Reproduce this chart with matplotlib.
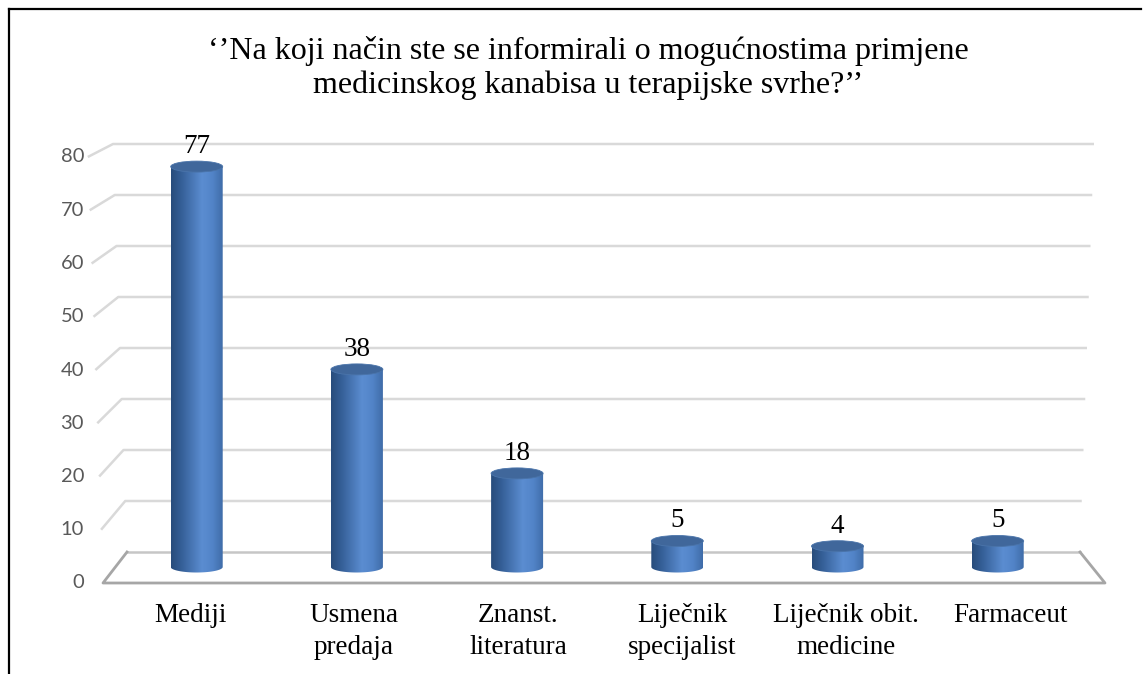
import matplotlib
matplotlib.use("Agg")
import matplotlib.pyplot as plt
import numpy as np
from matplotlib.patches import Ellipse, PathPatch
from matplotlib.path import Path
from matplotlib.colors import LinearSegmentedColormap
from matplotlib.lines import Line2D

# Data
title = "\u2018\u2019Na koji način ste se informirali o mogućnostima primjene\nmedicinskog kanabisa u terapijske svrhe?\u2019\u2019"
categories = ["Mediji", "Usmena\npredaja", "Znanst.\nliteratura",
              "Liječnik\nspecijalist", "Liječnik obit.\nmedicine", "Farmaceut"]
values = [77, 38, 18, 5, 4, 5]
y_ticks = [0, 10, 20, 30, 40, 50, 60, 70, 80]

# Layout (figure pixels) for the fake 3D box
W, H = 1147, 674
X0, DX = 196.7, 160.2     # bar centres, middle depth plane
Y0, DY = 567.0, 5.2       # value 0 and px per unit, middle depth plane


def to_data(px, py):
    return (px - X0) / DX, (Y0 - py) / DY


def back_pt(px_side, v):
    # back wall: slight perspective flare with height
    if px_side == "left":
        px = 127 - 0.175 * v
    else:
        px = 1080 + 0.175 * v
    return to_data(px, 552 - 5.1 * v)


def front_pt(v, px=None):
    if px is None:
        px = 103 - 0.19 * v
    return to_data(px, 583 - 5.325 * v)


fig = plt.figure(figsize=(W / 100, H / 100), dpi=100)
ax = fig.add_axes([0, 0, 1, 1])
ax.axis("off")

grid_col = "#d9d9d9"
floor_col = "#a6a6a6"

# gridlines on back wall + diagonal ticks on the side
for v in y_ticks[1:]:
    (xl, yb), (xr, _) = back_pt("left", v), back_pt("right", v)
    xf, yf = front_pt(v)
    ax.plot([xf, xl, xr], [yf, yb, yb], color=grid_col, lw=1.8,
            solid_capstyle="butt", zorder=1)

# floor
fl = front_pt(0)
fr = front_pt(0, px=1105)
bl = back_pt("left", 0)
br = back_pt("right", 0)
ax.plot([bl[0], br[0]], [bl[1], br[1]], color="#c6c6c6", lw=1.8, zorder=1)
ax.plot([br[0], fr[0], fl[0], bl[0]], [br[1], fr[1], fl[1], bl[1]],
        color=floor_col, lw=2.0, zorder=1)

# y tick labels along front edge
for v in y_ticks:
    x, y = to_data(84, 583 - 5.325 * v)
    ax.text(x, y, str(v), ha="right", va="center", fontsize=14.5,
            family="Lato", color="#595959")

# cylinders
cyl_cmap = LinearSegmentedColormap.from_list(
    "cyl", [(0.0, "#284c7b"), (0.2, "#355f97"), (0.6, "#5b8dd1"),
            (0.8, "#5284c8"), (1.0, "#3f6ca8")])
cap_col = "#40679b"
bw = 52 / DX
eh = 11 / DY
grad = np.linspace(0, 1, 256).reshape(1, -1)
t = np.linspace(np.pi, 2 * np.pi, 60)

for i, v in enumerate(values):
    verts = [(i - bw / 2, v), (i - bw / 2, 0)]
    verts += list(zip(i + bw / 2 * np.cos(t), eh / 2 * np.sin(t)))
    verts += [(i + bw / 2, v), (i - bw / 2, v)]
    body = PathPatch(Path(verts), facecolor="none", edgecolor="none")
    ax.add_patch(body)
    im = ax.imshow(grad, cmap=cyl_cmap, aspect="auto", zorder=3,
                   extent=[i - bw / 2, i + bw / 2, -eh, v])
    im.set_clip_path(body)
    ax.add_patch(Ellipse((i, v), bw, eh, facecolor=cap_col,
                         edgecolor="#4a74aa", lw=0.6, zorder=4))
    ax.text(i, v + 2.6, str(v), ha="center", va="baseline", fontsize=19.5,
            family="Liberation Serif", color="black", zorder=5)

# category labels on the front plane
for i, lab in enumerate(categories):
    x, y = to_data(190 + 164 * i, 603)
    ax.text(x, y, lab, ha="center", va="top", fontsize=19.5,
            family="Liberation Serif", linespacing=1.38)

x0, y0 = to_data(0, H)
x1, y1 = to_data(W, 0)
ax.set_xlim(x0, x1)
ax.set_ylim(y0, y1)

fig.text(588 / W, 1 - 36 / H, title, ha="center", va="top", fontsize=23,
         family="Liberation Serif", linespacing=1.2)

# frame lines (left and top only are visible in the source)
fig.add_artist(Line2D([9 / W, 9 / W], [0, 1 - 9 / H], color="black", lw=1.6))
fig.add_artist(Line2D([9 / W, 1141 / W], [1 - 9 / H, 1 - 9 / H],
                      color="black", lw=1.6))

fig.savefig("out.png", dpi=100)
